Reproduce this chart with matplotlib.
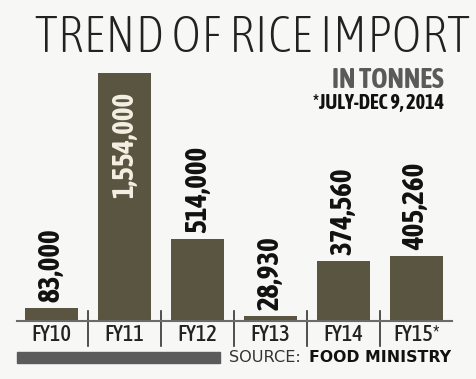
import matplotlib.pyplot as plt
import numpy as np

years = ['FY10', 'FY11', 'FY12', 'FY13', 'FY14', 'FY15*']
tonnes = [83000, 1554000, 514000, 28930, 374560, 405260]
labels = ['83,000', '1,554,000', '514,000', '28,930', '374,560', '405,260']

bar_col = '#5a5540'
bg = '#f7f7f5'
cond = ['Asap Condensed', 'Roboto Condensed', 'DejaVu Sans']

W, H = 476, 379
fig = plt.figure(figsize=(W / 100, H / 100), dpi=100, facecolor=bg)
renderer = fig.canvas.get_renderer()


def fit_width(t, px):
    # scale the font size so the text spans about px pixels
    for _ in range(3):
        w = t.get_window_extent(renderer=renderer).width
        t.set_fontsize(t.get_fontsize() * px / w)


# baseline at y=321 from top, tallest bar top at y=73
ax = fig.add_axes([17 / W, 58 / H, 435 / W, 248 / H])
ax.set_facecolor('none')
x = np.arange(len(years))
ax.bar(x, tonnes, width=0.73, color=bar_col)
ax.set_xlim(-0.47, 5.49)
ax.set_ylim(0, 1554000)
for s in ['top', 'right', 'left']:
    ax.spines[s].set_visible(False)
ax.spines['bottom'].set_color('#6b6b6b')
ax.spines['bottom'].set_linewidth(1.5)
ax.set_yticks([])
ax.set_xticks(x)
ax.set_xticklabels(years, family=cond, fontweight='medium', fontsize=16, color='#222222')
ax.tick_params(axis='x', length=0, pad=2)

# separators between categories
for i in range(len(years) - 1):
    ax.plot([i + 0.5, i + 0.5], [0.04, -0.1], transform=ax.get_xaxis_transform(),
            color='#333333', lw=1.2, clip_on=False)

for i, (v, lab) in enumerate(zip(tonnes, labels)):
    if v > 1000000:
        ax.text(i, v - 0.075 * 1554000, lab, rotation=90, ha='center', va='top',
                family=cond, fontweight='bold', fontsize=21, color='#f4f1e4')
    else:
        ax.text(i, v + 0.025 * 1554000, lab, rotation=90, ha='center', va='bottom',
                family=cond, fontweight='bold', fontsize=21, color='#111111',
                clip_on=False)

title = fig.text(35 / W, 1 - 38 / H, 'TREND OF RICE IMPORT', family=cond,
                 fontweight='light', fontsize=36, color='#222222', ha='left', va='center')
fit_width(title, 435)
fig.text(444 / W, 1 - 80 / H, 'IN TONNES', family=cond, fontweight='bold',
         fontsize=20, color='#5a5a5a', ha='right', va='center')
fig.text(444 / W, 1 - 103 / H, '*JULY-DEC 9, 2014', family=cond, fontweight='bold',
         fontsize=14.5, color='#111111', ha='right', va='center')

# source strip
fig.patches.append(plt.Rectangle((17 / W, 1 - 363 / H), 203 / W, 11 / H,
                                 transform=fig.transFigure, color='#5b5b5b'))
s1 = fig.text(229 / W, 1 - 357.5 / H, 'SOURCE:', family='DejaVu Sans', fontsize=10,
              color='#333333', ha='left', va='center')
fit_width(s1, 72)
s2 = fig.text(451 / W, 1 - 357.5 / H, 'FOOD MINISTRY', family='DejaVu Sans',
              fontweight='bold', fontsize=10, color='#111111', ha='right', va='center')
fit_width(s2, 142)

fig.savefig('out.png', dpi=100, facecolor=bg)
